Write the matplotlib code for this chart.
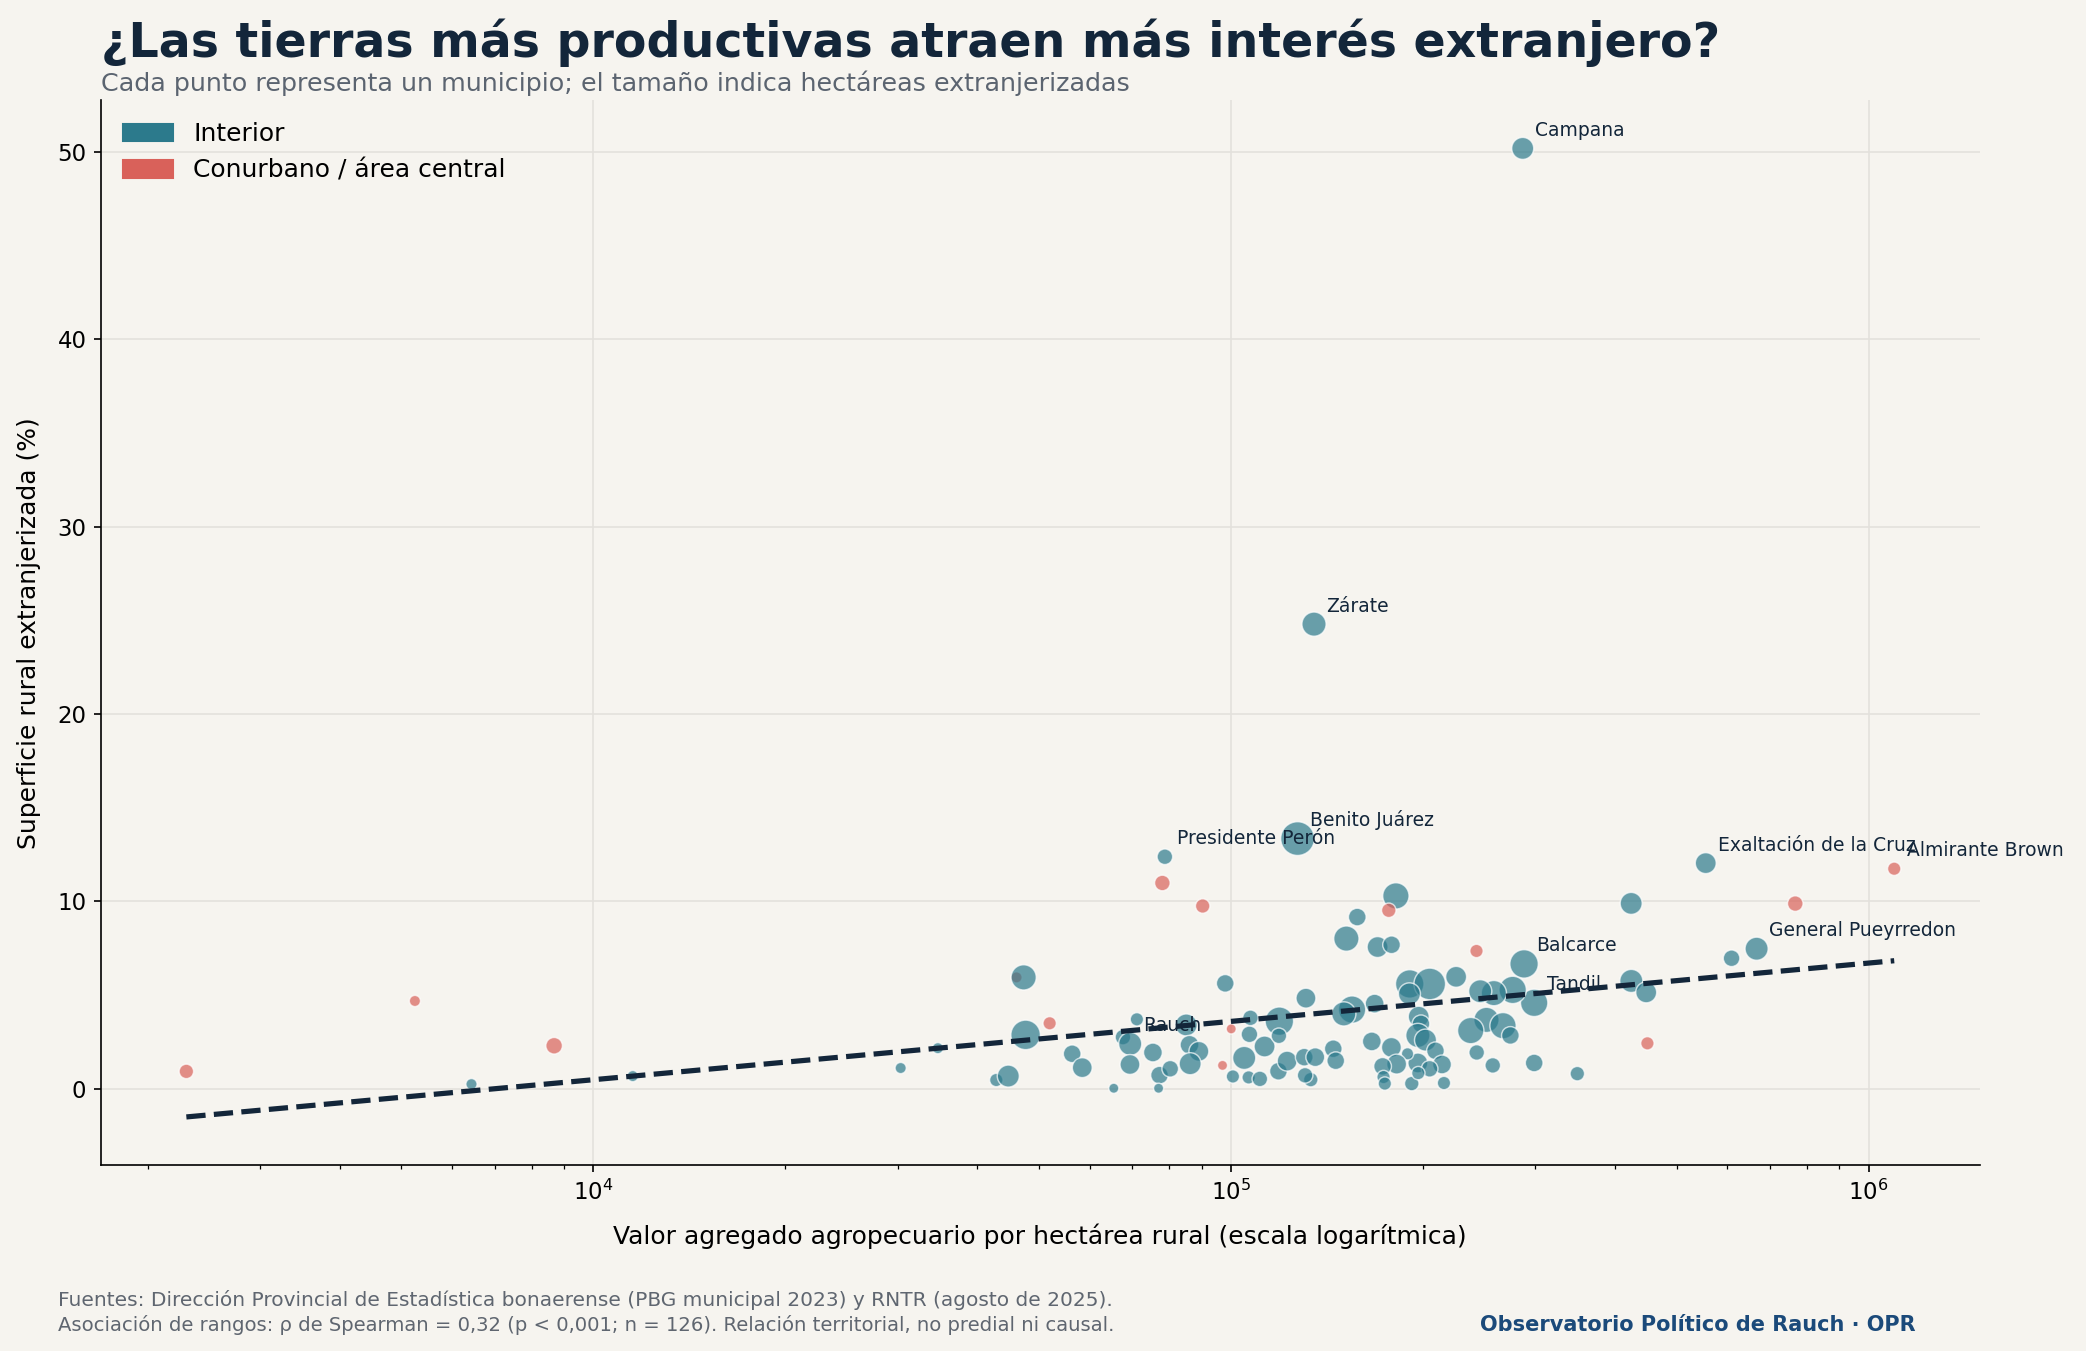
import numpy as np
import matplotlib
matplotlib.use("Agg")
import matplotlib.pyplot as plt
from matplotlib.patches import Patch

# Datos por municipio (orden de dibujo). Valor agregado agropecuario por ha rural
va_ha = [46100,
         6440, 11530, 30340, 34700, 47300, 47640, 42850, 44750, 56360, 58450,
         65500, 71200, 67700, 69500, 69440, 75440, 77270, 80310, 77000, 85100,
         86100, 89060, 86300, 97950, 100700, 104900, 106900, 107300, 106600, 111000,
         112900, 119100, 118900, 118700, 122500, 131100, 130300, 135600, 133400, 130700,
         144700, 146000, 78770, 127200, 134970, 286800, 181400, 157800, 151700, 169800,
         178600, 288200, 424300, 424500, 448000, 349300, 298900, 257400, 242900, 225500,
         298900, 276600, 258400, 246000, 251600, 267100, 237700, 274300, 190700, 205000,
         190500, 197000, 198600, 196400, 201900, 209300, 214300, 215800, 196400, 204900,
         192100, 196700, 189200, 178500, 181900, 172900, 173500, 174300, 166300, 168000,
         154850, 150300, 609700, 667400, 555400,
         2300, 5250, 8680, 51960, 100100, 97000, 78060, 90290, 176800, 242700,
         449900, 767400, 1097000]

# Superficie rural extranjerizada (%)
pct_ext = [5.94,
           0.24, 0.67, 1.10, 2.16, 5.94, 2.87, 0.46, 0.67, 1.86, 1.12,
           0.02, 3.70, 2.75, 2.39, 1.29, 1.93, 0.72, 1.06, 0.02, 3.40,
           2.34, 1.99, 1.33, 5.62, 0.65, 1.64, 2.90, 3.78, 0.60, 0.52,
           2.25, 3.60, 2.82, 0.93, 1.47, 4.83, 1.68, 1.68, 0.48, 0.71,
           2.13, 1.49, 12.38, 13.35, 24.8, 50.2, 10.29, 9.16, 8.01, 7.56,
           7.68, 6.66, 9.89, 5.75, 5.14, 0.80, 1.37, 1.24, 1.93, 5.97,
           4.58, 5.27, 5.10, 5.20, 3.67, 3.36, 3.10, 2.84, 5.59, 5.59,
           5.06, 3.84, 3.46, 2.84, 2.59, 2.02, 1.29, 0.30, 1.37, 1.06,
           0.27, 0.83, 1.86, 2.20, 1.31, 1.19, 0.62, 0.27, 2.52, 4.54,
           4.22, 3.99, 6.96, 7.47, 12.04,
           0.92, 4.68, 2.29, 3.49, 3.19, 1.24, 10.98, 9.75, 9.52, 7.35,
           2.42, 9.88, 11.74]

# Hectáreas extranjerizadas (miles)
ha_miles = [2.0,
            2.0, 2.0, 2.0, 2.0, 28.2, 40.2, 4.7, 20.4, 11.6, 15.8,
            0.8, 4.7, 8.0, 22.9, 15.8, 13.7, 11.6, 9.7, 0.8, 20.4,
            13.7, 15.8, 20.4, 11.6, 4.7, 22.9, 9.7, 8.0, 4.7, 8.0,
            18.0, 37.0, 8.0, 11.6, 15.8, 15.8, 11.6, 13.7, 6.3, 8.0,
            11.6, 11.6, 8.0, 54.0, 25.5, 20.4, 31.0, 11.6, 28.2, 18.0,
            11.6, 37.0, 20.4, 22.9, 18.0, 6.3, 11.6, 8.0, 8.0, 18.0,
            33.9, 33.9, 28.2, 22.9, 28.2, 31.0, 31.0, 11.6, 37.0, 46.8,
            20.4, 18.0, 11.6, 25.5, 20.4, 11.6, 13.7, 4.7, 15.8, 9.7,
            6.3, 4.7, 3.3, 15.8, 15.8, 11.6, 4.7, 4.7, 13.7, 13.7,
            33.9, 25.5, 9.7, 22.9, 18.0,
            6.3, 2.0, 9.7, 4.7, 0.8, 0.8, 8.0, 6.3, 6.3, 4.7,
            4.7, 8.0, 4.7]

zona = ["Conurbano"] + ["Interior"] * 95 + ["Conurbano"] * 13

etiquetas = {"Campana": 46, "Zárate": 45, "Benito Juárez": 44,
             "Presidente Perón": 43, "Exaltación de la Cruz": 95,
             "Almirante Brown": 108, "General Pueyrredon": 94,
             "Balcarce": 52, "Tandil": 61, "Rauch": 14}

# recta de tendencia: y = ordenada + pendiente * log10(x)
tend_ordenada = -11.98
tend_pendiente = 3.114

colores = {"Interior": "#2C7A8C", "Conurbano": "#D9615A"}
fondo = "#F6F4EF"
tinta = "#13263A"

x = np.array(va_ha, dtype=float)
y = np.array(pct_ext)
ha = np.array(ha_miles)

fig = plt.figure(figsize=(2086 / 150, 1351 / 150), dpi=150, facecolor=fondo)
ax = fig.add_axes([0.0484, 0.1374, 0.9006, 0.7886])
ax.set_facecolor(fondo)

ax.scatter(x, y, s=20 + 4.5 * ha, c=[colores[z] for z in zona], alpha=0.7,
           edgecolors="white", linewidths=0.7, zorder=3)

xs = np.logspace(np.log10(x.min()), np.log10(x.max()), 60)
ax.plot(xs, tend_ordenada + tend_pendiente * np.log10(xs), ls="--", lw=2.5,
        color=tinta, zorder=4)

for nombre, i in etiquetas.items():
    ax.annotate(nombre, (x[i], y[i]), xytext=(6, 6), textcoords="offset points",
                fontsize=9, color=tinta, zorder=5)

ax.set_xscale("log")
ax.grid(True, which="major", color="#E3E1DC", lw=0.8)
ax.set_axisbelow(True)
for s in ["top", "right"]:
    ax.spines[s].set_visible(False)
ax.tick_params(labelsize=11)
ax.set_xlabel("Valor agregado agropecuario por hectárea rural (escala logarítmica)",
              fontsize=12, labelpad=9)
ax.set_ylabel("Superficie rural extranjerizada (%)", fontsize=12, labelpad=8)

handles = [Patch(color=colores["Interior"], label="Interior"),
           Patch(color=colores["Conurbano"], label="Conurbano / área central")]
ax.legend(handles=handles, loc="upper left", frameon=False, fontsize=12)

fig.text(0.0484, 0.9578, "¿Las tierras más productivas atraen más interés extranjero?",
         fontsize=22.8, fontweight="bold", color=tinta, va="baseline")
fig.text(0.0484, 0.9324, "Cada punto representa un municipio; el tamaño indica hectáreas extranjerizadas",
         fontsize=12.2, color="#5B6470", va="baseline")

fig.text(0.028, 0.0377, "Fuentes: Dirección Provincial de Estadística bonaerense (PBG municipal 2023) y RNTR (agosto de 2025).",
         fontsize=9.7, color="#5F6670", va="center")
fig.text(0.028, 0.0192, "Asociación de rangos: ρ de Spearman = 0,32 (p < 0,001; n = 126). Relación territorial, no predial ni causal.",
         fontsize=9.4, color="#5F6670", va="center")
fig.text(0.9185, 0.0192, "Observatorio Político de Rauch · OPR", fontsize=10, fontweight="bold",
         color="#1B4A7A", ha="right", va="center")

fig.savefig("out.png", dpi=150, facecolor=fondo)
